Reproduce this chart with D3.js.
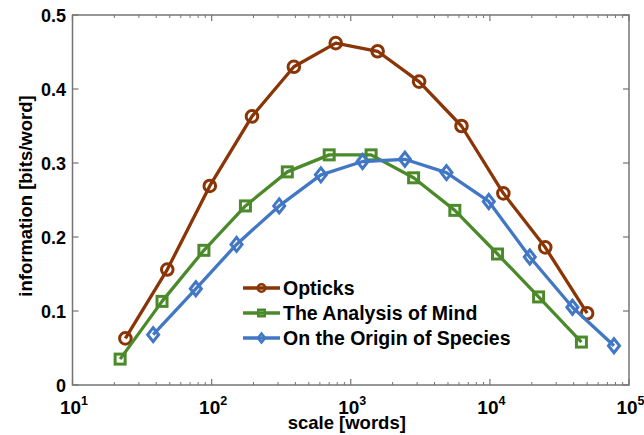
<!DOCTYPE html>
<html><head><meta charset="utf-8">
<script src="https://cdn.jsdelivr.net/npm/d3@7/dist/d3.min.js"></script>
<style>
body{margin:0;background:#fff;}
svg{display:block;font-family:"Liberation Sans",Arial,Helvetica,sans-serif;}
text{font-weight:bold;}
</style></head><body>
<svg id="chart" width="644" height="435"></svg>
<script>
// ---- data ----
const seriesNames = ["Opticks", "The Analysis of Mind", "On the Origin of Species"];
const opticksX = [24, 48, 97, 195, 390, 780, 1560, 3100, 6250, 12500, 25000, 50000];
const opticksY = [0.063, 0.156, 0.269, 0.363, 0.430, 0.462, 0.451, 0.410, 0.350, 0.259, 0.186, 0.097];
const mindX = [22, 44, 88, 175, 350, 700, 1400, 2830, 5600, 11350, 22400, 45500];
const mindY = [0.035, 0.113, 0.182, 0.242, 0.288, 0.311, 0.311, 0.280, 0.236, 0.177, 0.119, 0.058];
const originX = [38, 77, 151, 306, 610, 1216, 2450, 4875, 9820, 19360, 39200, 78000];
const originY = [0.068, 0.130, 0.190, 0.242, 0.284, 0.302, 0.305, 0.287, 0.248, 0.173, 0.105, 0.053];
const xMajorTicks = [10, 100, 1000, 10000, 100000];
const xTickExponents = ["1", "2", "3", "4", "5"];
const yTicks = [0, 0.1, 0.2, 0.3, 0.4, 0.5];
const yTickLabels = ["0", "0.1", "0.2", "0.3", "0.4", "0.5"];
const xLabel = "scale [words]";
const yLabel = "information [bits/word]";

const colors = ["#8a3506", "#4b8a2a", "#4177c4"];
const markers = ["circle", "square", "diamond"];

const svg = d3.select("#chart");
const L = 72.5, R = 629, T = 15, B = 385;
const x = d3.scaleLog().domain([10, 1e5]).range([L, R]);
const y = d3.scaleLinear().domain([0, 0.5]).range([B, T]);

const axisColor = "#757575";
const minor = [];
for (let d = 10; d < 1e5; d *= 10) for (let k = 2; k <= 9; k++) minor.push(d * k);

const g = svg.append("g");
g.append("rect").attr("x", L).attr("y", T).attr("width", R - L).attr("height", B - T)
  .attr("fill", "none").attr("stroke", axisColor).attr("stroke-width", 1.5);

g.selectAll(".xmin").data(minor).join("line")
  .attr("x1", d => x(d)).attr("x2", d => x(d)).attr("y1", B).attr("y2", B - 3)
  .attr("stroke", axisColor).attr("stroke-width", 1);
g.selectAll(".xmint").data(minor).join("line")
  .attr("x1", d => x(d)).attr("x2", d => x(d)).attr("y1", T).attr("y2", T + 3)
  .attr("stroke", axisColor).attr("stroke-width", 1);
g.selectAll(".xmaj").data(xMajorTicks).join("line")
  .attr("x1", d => x(d)).attr("x2", d => x(d)).attr("y1", B).attr("y2", B - 6)
  .attr("stroke", axisColor).attr("stroke-width", 1.2);
g.selectAll(".xmajt").data(xMajorTicks).join("line")
  .attr("x1", d => x(d)).attr("x2", d => x(d)).attr("y1", T).attr("y2", T + 6)
  .attr("stroke", axisColor).attr("stroke-width", 1.2);
g.selectAll(".yl").data(yTicks).join("line")
  .attr("x1", L).attr("x2", L + 6).attr("y1", d => y(d)).attr("y2", d => y(d))
  .attr("stroke", axisColor).attr("stroke-width", 1.2);
g.selectAll(".yr").data(yTicks).join("line")
  .attr("x1", R).attr("x2", R - 6).attr("y1", d => y(d)).attr("y2", d => y(d))
  .attr("stroke", axisColor).attr("stroke-width", 1.2);

// x tick labels
const xl = g.selectAll(".xlab").data(xMajorTicks).join("text")
  .attr("x", d => x(d) + 1.5).attr("y", 413.5).attr("text-anchor", "middle")
  .attr("font-size", 19).attr("fill", "#000");
xl.append("tspan").text("10");
xl.append("tspan").attr("font-size", 12.5).attr("dy", -9).text((d, i) => xTickExponents[i]);

// y tick labels
g.selectAll(".ylab").data(yTicks).join("text")
  .attr("x", 66).attr("y", d => y(d) + 6.5).attr("text-anchor", "end")
  .attr("font-size", 18).attr("fill", "#000").text((d, i) => yTickLabels[i]);

// axis labels
svg.append("text").attr("x", (L + R) / 2 - 4).attr("y", 429).attr("text-anchor", "middle")
  .attr("font-size", 18.5).text(xLabel);
svg.append("text").attr("transform", `translate(32,${(T + B) / 2 - 4}) rotate(-90)`)
  .attr("text-anchor", "middle").attr("font-size", 18.5).text(yLabel);

const series = [
  {xs: opticksX, ys: opticksY},
  {xs: mindX, ys: mindY},
  {xs: originX, ys: originY}
];
function drawMarker(sel, type, cx, cy, s, color, sw) {
  if (type === "circle") {
    sel.append("circle").attr("cx", cx).attr("cy", cy).attr("r", 5.8 * s)
      .attr("fill", "none").attr("stroke", color).attr("stroke-width", sw);
  } else if (type === "square") {
    const h = 5 * s;
    sel.append("rect").attr("x", cx - h).attr("y", cy - h).attr("width", 2 * h).attr("height", 2 * h)
      .attr("fill", "none").attr("stroke", color).attr("stroke-width", sw);
  } else {
    const w = 5.5 * s, hh = 7 * s;
    sel.append("path").attr("d", `M${cx},${cy - hh}L${cx + w},${cy}L${cx},${cy + hh}L${cx - w},${cy}Z`)
      .attr("fill", "none").attr("stroke", color).attr("stroke-width", sw);
  }
}
const line = d3.line().x(d => x(d[0])).y(d => y(d[1]));
series.forEach((s, i) => {
  const pts = s.xs.map((v, j) => [v, s.ys[j]]);
  const sg = svg.append("g");
  sg.append("path").attr("d", line(pts)).attr("fill", "none")
    .attr("stroke", colors[i]).attr("stroke-width", 3.3).attr("stroke-linejoin", "round");
  pts.forEach(p => drawMarker(sg, markers[i], x(p[0]), y(p[1]), 1, colors[i], 3));
});

// legend
const legY = [288, 313, 338];
seriesNames.forEach((name, i) => {
  const lg = svg.append("g");
  lg.append("line").attr("x1", 243).attr("x2", 280).attr("y1", legY[i]).attr("y2", legY[i])
    .attr("stroke", colors[i]).attr("stroke-width", 3.3);
  drawMarker(lg, markers[i], 261.5, legY[i], 0.65, colors[i], 2.5);
  lg.append("text").attr("x", 283).attr("y", legY[i] + 7).attr("font-size", 19.5)
    .attr("fill", "#000").text(name);
});
</script>
</body></html>
